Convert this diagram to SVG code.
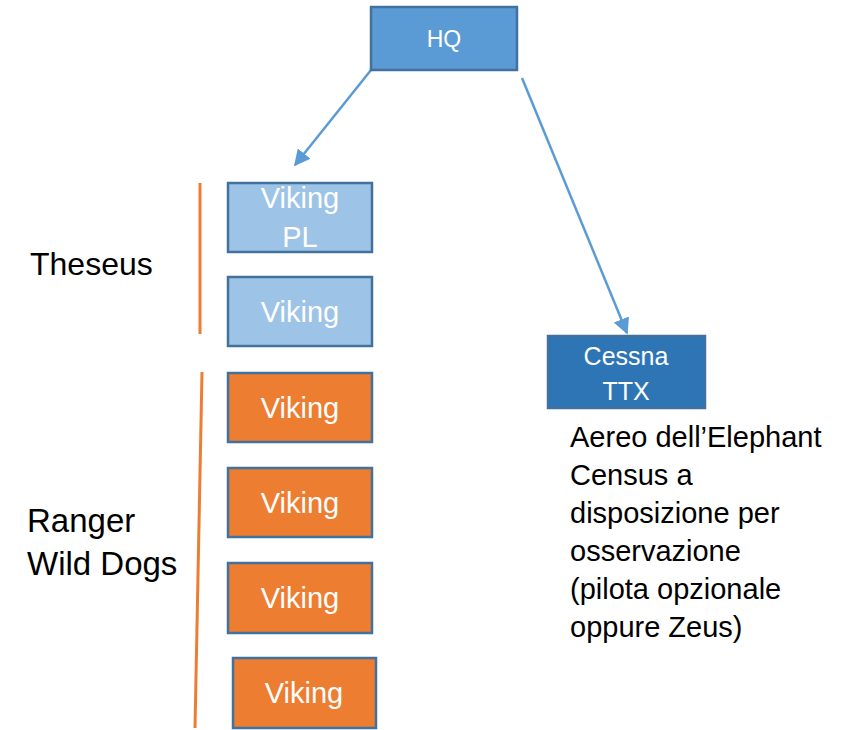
<svg xmlns="http://www.w3.org/2000/svg" width="851" height="730" viewBox="0 0 851 730">
<style>
.box{stroke:#41719C;stroke-width:2.5}
.hq{fill:#5B9BD5}
.ces{fill:#2E75B6}
.lt{fill:#9DC3E6}
.or{fill:#ED7D31}
.wt{fill:#FFFFFF;font-family:"Liberation Sans",Arial,sans-serif;text-anchor:middle}
.lbl{fill:#000000;font-family:"Liberation Sans",Arial,sans-serif}
.con{stroke:#5B9BD5;stroke-width:2.5;fill:none}
.brk{stroke:#ED7D31;stroke-width:3;fill:none}
</style>
<defs>
<marker id="ah" viewBox="0 0 10 10" refX="9" refY="5" markerWidth="6.5" markerHeight="6.5" orient="auto" markerUnits="strokeWidth">
<path d="M0,0 L10,5 L0,10 z" fill="#5B9BD5"/>
</marker>
</defs>
<rect width="851" height="730" fill="#FFFFFF"/>
<g id="connectors">
<line class="con" x1="371" y1="70" x2="295" y2="165" marker-end="url(#ah)"/>
<line class="con" x1="522" y1="78" x2="627" y2="333" marker-end="url(#ah)"/>
<line class="brk" x1="200" y1="183" x2="200" y2="334"/>
<line class="brk" x1="202" y1="372" x2="195" y2="728"/>
</g>
<g id="hq">
<rect class="box hq" x="371" y="7" width="146" height="63"/>
<text class="wt" x="444" y="47" font-size="23">HQ</text>
</g>
<g id="viking-pl">
<rect class="box lt" x="228" y="183" width="144" height="69"/>
<text class="wt" x="300" y="208" font-size="29">Viking</text>
<text class="wt" x="300" y="247" font-size="29">PL</text>
</g>
<g id="viking-2">
<rect class="box lt" x="228" y="277" width="144" height="69"/>
<text class="wt" x="300" y="322" font-size="29">Viking</text>
</g>
<g id="viking-3">
<rect class="box or" x="228" y="373" width="144" height="69"/>
<text class="wt" x="300" y="418" font-size="29">Viking</text>
</g>
<g id="viking-4">
<rect class="box or" x="228" y="468" width="144" height="69"/>
<text class="wt" x="300" y="513" font-size="29">Viking</text>
</g>
<g id="viking-5">
<rect class="box or" x="228" y="563" width="144" height="70"/>
<text class="wt" x="300" y="608" font-size="29">Viking</text>
</g>
<g id="viking-6">
<rect class="box or" x="233" y="658" width="143" height="70"/>
<text class="wt" x="304" y="703" font-size="29">Viking</text>
</g>
<g id="cessna">
<rect class="box ces" x="548" y="336" width="157" height="72"/>
<text class="wt" x="626" y="365" font-size="25">Cessna</text>
<text class="wt" x="626" y="400" font-size="25">TTX</text>
</g>
<g id="theseus-label">
<text class="lbl" x="30" y="275" font-size="32">Theseus</text>
</g>
<g id="ranger-label">
<text class="lbl" x="27" y="532" font-size="33">Ranger</text>
<text class="lbl" x="27" y="575" font-size="33">Wild Dogs</text>
</g>
<g id="cessna-note">
<text class="lbl" x="570" y="447" font-size="29">Aereo dell’Elephant</text>
<text class="lbl" x="570" y="485" font-size="29">Census a</text>
<text class="lbl" x="570" y="523" font-size="29">disposizione per</text>
<text class="lbl" x="570" y="561" font-size="29">osservazione</text>
<text class="lbl" x="570" y="599" font-size="29">(pilota opzionale</text>
<text class="lbl" x="570" y="637" font-size="29">oppure Zeus)</text>
</g>
</svg>
